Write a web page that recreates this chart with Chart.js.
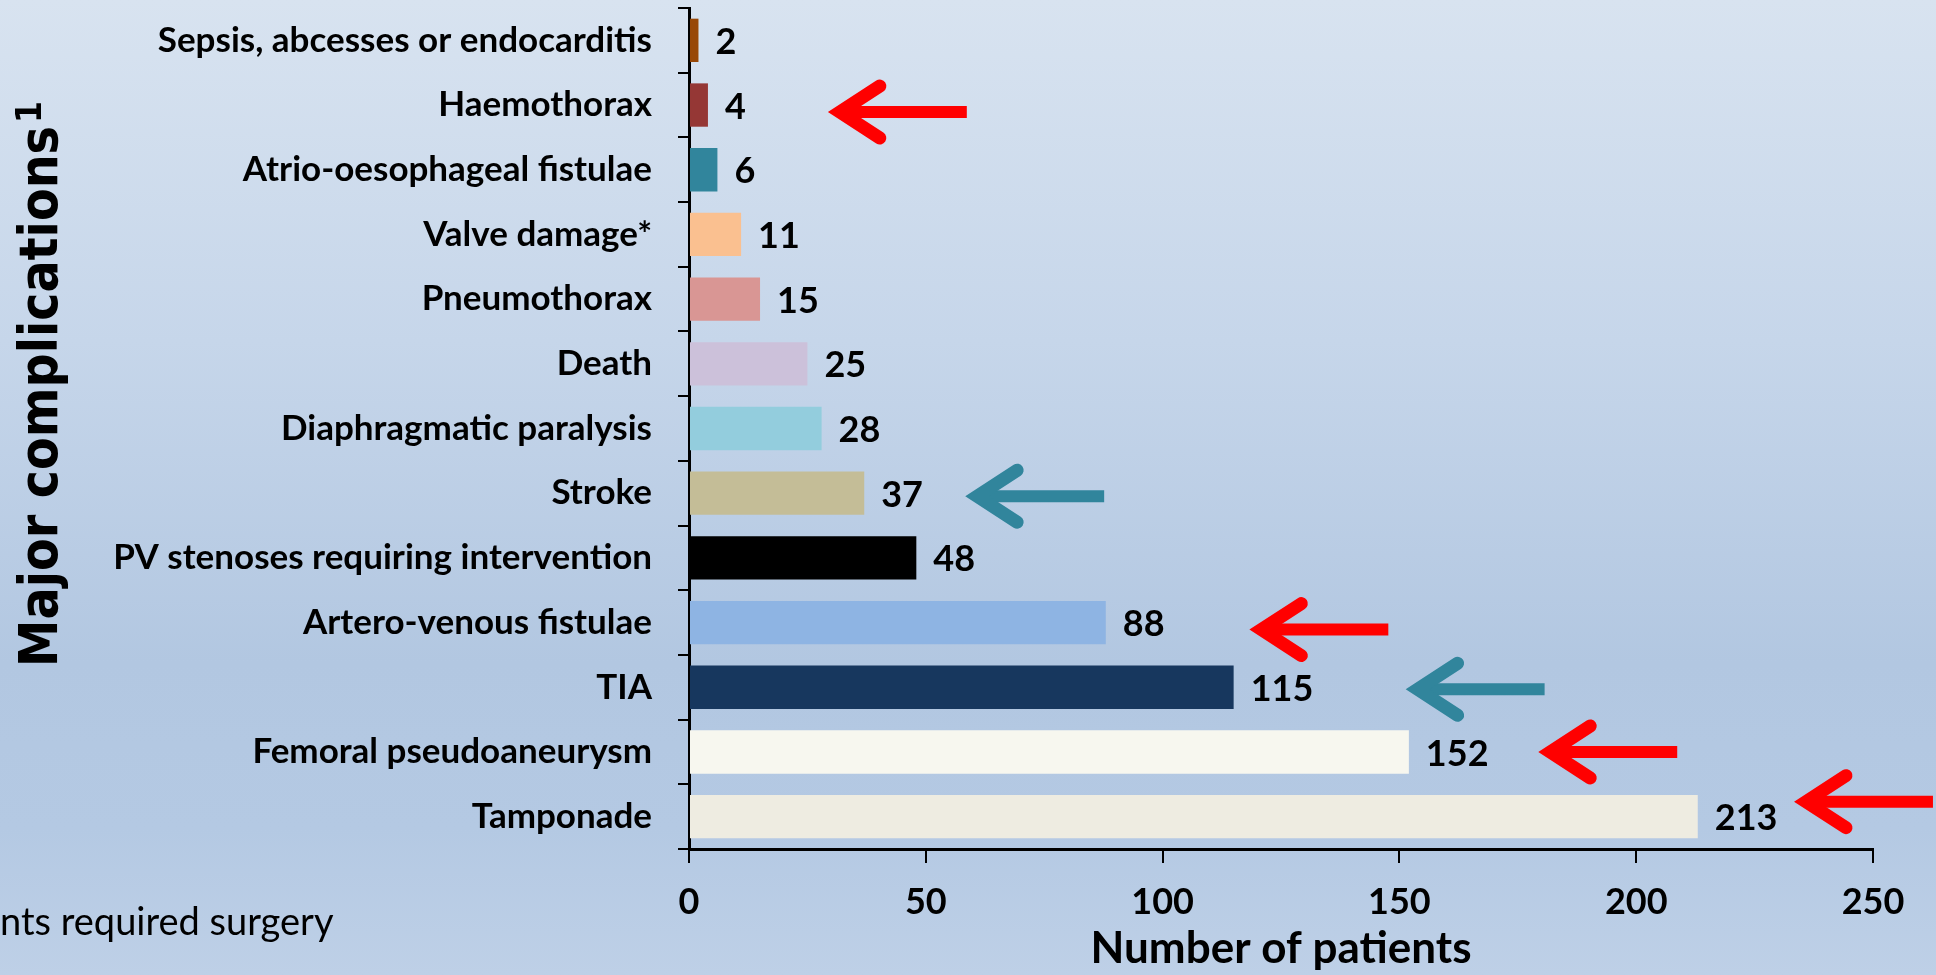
<!DOCTYPE html>
<html>
<head>
<meta charset="utf-8">
<title>Major complications</title>
<script src="https://cdn.jsdelivr.net/npm/chart.js@4.4.1/dist/chart.umd.min.js"></script>
<style>
  html, body { margin: 0; padding: 0; overflow: hidden; }
  body {
    width: 1936px; height: 975px;
    background: linear-gradient(180deg, #d8e3f0 0%, #c6d6ea 35%, #b2c7e1 68%, #b4c9e3 85%, #bed0e7 100%);
  }
  #wrap { position: relative; width: 1936px; height: 975px; }
</style>
</head>
<body>
<div id="wrap"><canvas id="chart"></canvas></div>
<script>
// --- Datos ---
const categories = [
  'Sepsis, abcesses or endocarditis',
  'Haemothorax',
  'Atrio-oesophageal fistulae',
  'Valve damage*',
  'Pneumothorax',
  'Death',
  'Diaphragmatic paralysis',
  'Stroke',
  'PV stenoses requiring intervention',
  'Artero-venous fistulae',
  'TIA',
  'Femoral pseudoaneurysm',
  'Tamponade'
];
const patients = [2, 4, 6, 11, 15, 25, 28, 37, 48, 88, 115, 152, 213];
const barColors = [
  '#984807', '#953735', '#31859c', '#fac090', '#d99694', '#ccc1da', '#93cddd',
  '#c4bd97', '#000000', '#8eb4e3', '#17375e', '#f7f7ef', '#eeece1'
];
const xTicks = [0, 50, 100, 150, 200, 250];

// flechas: fila, punta (valor en el eje x), color
const arrowRows = ['Haemothorax', 'Stroke', 'Artero-venous fistulae', 'TIA', 'Femoral pseudoaneurysm', 'Tamponade'];
const arrowTips = [31, 60, 120, 153, 181, 235];
const arrowColors = ['#ff0000', '#31859c', '#ff0000', '#31859c', '#ff0000', '#ff0000'];
const arrowNudge = [7, 3, 7, 2, 0, -15];

const FONT = 'Lato, "Open Sans", sans-serif';

// --- Plugin: etiquetas, flechas, titulo Y y nota ---
const extrasPlugin = {
  id: 'extras',
  afterDatasetsDraw(chart) {
    const ctx = chart.ctx;
    const meta = chart.getDatasetMeta(0);
    const xs = chart.scales.x;
    const ys = chart.scales.y;

    // valores al final de cada barra
    ctx.save();
    ctx.fillStyle = '#000';
    ctx.font = 'bold 36px ' + FONT;
    ctx.textAlign = 'left';
    ctx.textBaseline = 'middle';
    meta.data.forEach((bar, i) => {
      ctx.fillText(String(patients[i]), bar.x + 17, bar.y + 2);
    });
    ctx.restore();

    // flechas
    arrowRows.forEach((row, i) => {
      const tip = xs.getPixelForValue(arrowTips[i]);
      const y = ys.getPixelForValue(categories.indexOf(row)) + arrowNudge[i];
      ctx.save();
      ctx.strokeStyle = arrowColors[i];
      ctx.lineWidth = 12;
      ctx.lineCap = 'butt';
      ctx.beginPath();
      ctx.moveTo(tip + 6, y);
      ctx.lineTo(tip + 131, y);
      ctx.stroke();
      ctx.lineWidth = 13;
      ctx.lineCap = 'round';
      ctx.lineJoin = 'miter';
      ctx.beginPath();
      ctx.moveTo(tip + 44, y - 26);
      ctx.lineTo(tip + 4, y);
      ctx.lineTo(tip + 44, y + 26);
      ctx.stroke();
      ctx.restore();
    });
  },
  afterDraw(chart) {
    const ctx = chart.ctx;
    // titulo del eje Y con superindice
    ctx.save();
    ctx.translate(57, 667);
    ctx.rotate(-Math.PI / 2);
    ctx.fillStyle = '#000';
    ctx.textAlign = 'left';
    ctx.textBaseline = 'alphabetic';
    ctx.font = 'bold 53px "DejaVu Sans Condensed", "DejaVu Sans", sans-serif';
    const main = 'Major complications';
    ctx.fillText(main, 0, 0);
    const w = ctx.measureText(main).width;
    ctx.font = 'bold 35px "DejaVu Sans Condensed", "DejaVu Sans", sans-serif';
    ctx.fillText('1', w + 3, -16);
    ctx.restore();

    // nota al pie (cortada por el borde)
    ctx.save();
    ctx.fillStyle = '#000';
    ctx.font = '38px ' + FONT;
    ctx.textAlign = 'left';
    ctx.textBaseline = 'alphabetic';
    ctx.fillText('nts required surgery', 0, 935);
    ctx.restore();
  }
};

// --- Grafica ---
const ctx = document.getElementById('chart').getContext('2d');
const chart = new Chart(ctx, {
  type: 'bar',
  data: {
    labels: categories,
    datasets: [{
      data: patients,
      backgroundColor: barColors,
      borderWidth: 0,
      barPercentage: 0.67,
      categoryPercentage: 1.0
    }]
  },
  options: {
    indexAxis: 'y',
    responsive: true,
    maintainAspectRatio: false,
    animation: false,
    layout: { padding: { top: 8, right: 63, bottom: 0, left: 0 } },
    plugins: {
      legend: { display: false },
      tooltip: { enabled: false }
    },
    scales: {
      x: {
        min: 0,
        max: 250,
        afterBuildTicks: (scale) => { scale.ticks = xTicks.map(v => ({ value: v })); },
        grid: { drawOnChartArea: false, drawTicks: true, tickLength: 14, color: '#000', lineWidth: 2 },
        border: { color: '#000', width: 3 },
        ticks: { color: '#000', padding: 18, font: { family: FONT, weight: 'bold', size: 36 } },
        title: {
          display: true,
          text: 'Number of patients',
          color: '#000',
          font: { family: FONT, weight: 'bold', size: 44 },
          padding: { top: 0, bottom: 0 }
        },
        afterFit: (scale) => { scale.height = 126; }
      },
      y: {
        grid: { drawOnChartArea: false, drawTicks: true, tickLength: 11, color: '#000', lineWidth: 2, offset: true },
        border: { color: '#000', width: 3 },
        ticks: { color: '#000', padding: 26, font: { family: FONT, weight: 'bold', size: 35 } },
        afterFit: (scale) => {
          scale.width = 689;
          scale.paddingTop = 0;
          scale.paddingBottom = 0;
        }
      }
    }
  },
  plugins: [extrasPlugin]
});
</script>
</body>
</html>
